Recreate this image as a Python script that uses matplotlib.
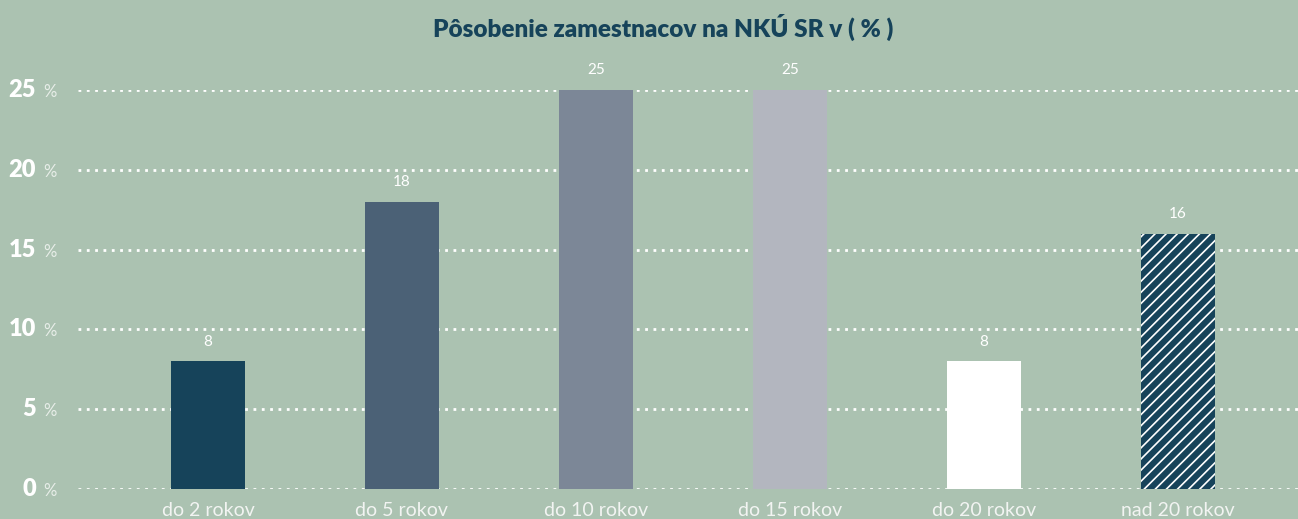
import matplotlib.pyplot as plt
import matplotlib.transforms as mtransforms
import numpy as np

# data
categories = ['do 2 rokov', 'do 5 rokov', 'do 10 rokov', 'do 15 rokov', 'do 20 rokov', 'nad 20 rokov']
values = [8, 18, 25, 25, 8, 16]
yticks = [0, 5, 10, 15, 20, 25]
title = 'Pôsobenie zamestnacov na NKÚ SR v ( % )'

bg = '#abc2b1'
bar_colors = ['#16435a', '#4b6176', '#7c8797', '#b3b6bf', '#ffffff', '#16435a']
plt.rcParams['font.family'] = ['Lato', 'DejaVu Sans']
plt.rcParams['hatch.color'] = 'white'
plt.rcParams['hatch.linewidth'] = 1.2

fig = plt.figure(figsize=(12.98, 5.19), dpi=100, facecolor=bg)
ax = fig.add_axes([78/1298, 30/519, 1 - 78/1298, 399/519], facecolor=bg)

x = np.arange(len(categories))
bars = ax.bar(x, values, width=0.38, color=bar_colors, zorder=3, linewidth=0)
bars[-1].set_hatch('///')
bars[-1].set_edgecolor('white')
bars[-1].set_linewidth(0)

for xi, v in zip(x, values):
    ax.text(xi, v + 0.8, str(v), ha='center', va='bottom', color='white',
            fontsize=11, zorder=4, clip_on=False)

ax.set_xlim(-0.67, 5.62)
ax.set_ylim(0, 25)
ax.set_yticks(yticks)
ax.set_yticklabels([])
ax.yaxis.grid(True, color='white', linestyle=(0, (1, 2)), linewidth=2, zorder=1)
ax.set_axisbelow(True)
ax.tick_params(axis='y', length=0)
ax.set_xticks(x)
ax.set_xticklabels(categories, fontsize=14, color='#f2f4f2')
ax.tick_params(axis='x', length=0, pad=9)
for s in ax.spines.values():
    s.set_visible(False)

trans = ax.get_yaxis_transform()
num_off = mtransforms.ScaledTranslation(-42/100, 0, fig.dpi_scale_trans)
pct_off = mtransforms.ScaledTranslation(-35/100, -2/100, fig.dpi_scale_trans)
for t in yticks:
    ax.text(0, t, str(t), transform=trans + num_off, ha='right', va='center',
            fontsize=17, fontweight='heavy', color='white', clip_on=False)
    ax.text(0, t, '%', transform=trans + pct_off, ha='left', va='center',
            fontsize=12, color='#e8eee9', clip_on=False)

fig.text(0.511, 1 - 27/519, title, ha='center', va='center', fontsize=17.5,
         fontweight='heavy', color='#16435a')

plt.savefig('out.png', dpi=100, facecolor=bg)
